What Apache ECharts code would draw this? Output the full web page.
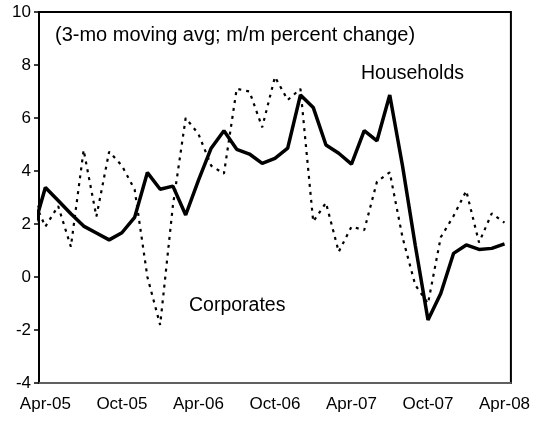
<!DOCTYPE html>
<html>
<head>
<meta charset="utf-8">
<script src="https://cdn.jsdelivr.net/npm/echarts@6/dist/echarts.min.js"></script>
<style>
  html, body { margin: 0; padding: 0; background: #fff; }
  #chart { width: 533px; height: 424px; }
</style>
</head>
<body>
<div id="chart"></div>
<script>
// monthly points, Mar-05 is only there for the clipped stub at the left edge
var months = ['Mar-05',
    'Apr-05','May-05','Jun-05','Jul-05','Aug-05','Sep-05','Oct-05','Nov-05','Dec-05','Jan-06','Feb-06','Mar-06',
    'Apr-06','May-06','Jun-06','Jul-06','Aug-06','Sep-06','Oct-06','Nov-06','Dec-06','Jan-07','Feb-07','Mar-07',
    'Apr-07','May-07','Jun-07','Jul-07','Aug-07','Sep-07','Oct-07','Nov-07','Dec-07','Jan-08','Feb-08','Mar-08',
    'Apr-08'];
var households = [1.7,
    3.38, 2.89, 2.39, 1.92, 1.66, 1.40, 1.67, 2.25, 3.94, 3.31, 3.43, 2.34,
    3.65, 4.86, 5.52, 4.82, 4.64, 4.29, 4.48, 4.86, 6.87, 6.40, 4.98, 4.67,
    4.26, 5.52, 5.14, 6.87, 4.20, 1.20, -1.62, -0.62, 0.89, 1.21, 1.04, 1.08,
    1.25];
var corporates = [3.0,
    1.90, 2.68, 1.14, 4.79, 2.28, 4.73, 4.20, 3.30, 0.00, -1.81, 2.70, 6.00,
    5.40, 4.20, 3.90, 7.10, 7.00, 5.65, 7.55, 6.68, 7.10, 2.09, 2.80, 0.95,
    1.90, 1.77, 3.60, 3.95, 1.50, -0.30, -1.00, 1.50, 2.30, 3.25, 1.30, 2.40,
    2.05];
var yTicks = {min: -4, max: 10, step: 2};

var axisMonths = months.slice(1);
function toPoints(vals) {
    var pts = [];
    for (var i = 0; i < vals.length; i++) {
        pts.push([i - 0.5, vals[i]]);
    }
    return pts;
}

var font = 'Liberation Sans, Arial, sans-serif';
var myChart = echarts.init(document.getElementById('chart'));
var option = {
    animation: false,
    grid: {
        left: 39, right: 19, top: 12, bottom: 41,
        show: true,
        borderColor: '#000',
        borderWidth: 2
    },
    xAxis: [
        {   // labels along the bottom
            type: 'category',
            data: axisMonths,
            boundaryGap: true,
            position: 'bottom',
            axisLine: {show: false},
            axisTick: {show: false},
            axisLabel: {
                interval: 5,
                color: '#000',
                fontFamily: font,
                fontSize: 17,
                margin: 13
            }
        },
        {   // zero line with the half-year ticks
            type: 'category',
            data: axisMonths,
            boundaryGap: true,
            position: 'bottom',
            axisLine: {onZero: true, lineStyle: {color: '#808080', width: 1.5}},
            axisTick: {interval: 5, length: 5, lineStyle: {color: '#808080', width: 1.5}},
            axisLabel: {show: false}
        },
        {   // month index scale the lines are drawn on
            type: 'value',
            min: 0,
            max: axisMonths.length,
            show: false
        }
    ],
    yAxis: {
        type: 'value',
        min: yTicks.min,
        max: yTicks.max,
        interval: yTicks.step,
        axisLine: {show: true, lineStyle: {color: '#000', width: 2}},
        axisTick: {show: true, length: 5, lineStyle: {color: '#000', width: 1.5}},
        splitLine: {show: false},
        axisLabel: {
            color: '#000',
            fontFamily: font,
            fontSize: 17,
            margin: 8
        }
    },
    series: [
        {
            name: 'Corporates',
            type: 'line',
            xAxisIndex: 2,
            data: toPoints(corporates),
            symbol: 'none',
            lineStyle: {color: '#000', width: 2.2, type: [3, 5]},
            z: 3
        },
        {
            name: 'Households',
            type: 'line',
            xAxisIndex: 2,
            data: toPoints(households),
            symbol: 'none',
            lineStyle: {color: '#000', width: 3.5},
            z: 4
        }
    ],
    graphic: [
        {type: 'text', left: 55, top: 25,
         style: {text: '(3-mo moving avg; m/m percent change)', fill: '#000', font: '20px ' + font}},
        {type: 'text', left: 361, top: 64,
         style: {text: 'Households', fill: '#000', font: '19.5px ' + font}},
        {type: 'text', left: 189, top: 296,
         style: {text: 'Corporates', fill: '#000', font: '19.5px ' + font}}
    ]
};
myChart.setOption(option);
</script>
</body>
</html>
